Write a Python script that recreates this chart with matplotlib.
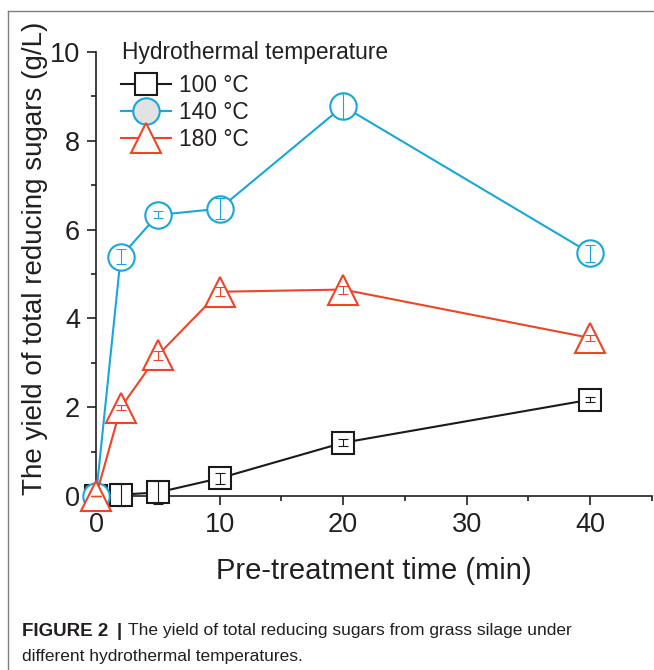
"""
Yield of total reducing sugars vs pre-treatment time
"""

import matplotlib
matplotlib.use("Agg")
from matplotlib import pyplot as plt
from matplotlib.lines import Line2D

plt.rcParams['font.family'] = ['Liberation Sans', 'DejaVu Sans']

time_min = [0, 2, 5, 10, 20, 40]

labels = ["100 °C", "140 °C", "180 °C"]
yield_100 = [0.0, 0.03, 0.08, 0.40, 1.20, 2.17]
yield_140 = [0.0, 5.39, 6.33, 6.47, 8.78, 5.47]
yield_180 = [0.0, 1.99, 3.17, 4.60, 4.65, 3.56]
err_100 = [0.0, 0.25, 0.25, 0.12, 0.08, 0.06]
err_140 = [0.0, 0.17, 0.08, 0.24, 0.30, 0.19]
err_180 = [0.0, 0.06, 0.10, 0.10, 0.09, 0.07]

COLOR_100 = '#1a1a1a'
COLOR_140 = '#17a7da'
COLOR_180 = '#ef4426'
TEXT = '#231f20'

series = [
    (yield_100, err_100, COLOR_100, 's', 16, 'white'),
    (yield_140, err_140, COLOR_140, 'o', 19, 'white'),
    (yield_180, err_180, COLOR_180, '^', 21, 'white'),
]

fig = plt.figure(figsize=(6.54, 6.70), dpi=100)
ax = fig.add_axes([0.1468, 0.2597, 0.8502, 0.6627])

handles = []
for (vals, errs, color, marker, ms, face), lab in zip(series, labels):
    ax.plot(time_min, vals, color=color, linewidth=1.5, marker=marker,
            markersize=ms, markerfacecolor=face, markeredgecolor=color,
            markeredgewidth=1.5, clip_on=False, zorder=3)
    ax.errorbar(time_min, vals, yerr=errs, fmt='none', ecolor=color,
                elinewidth=0.8, capsize=3.5, capthick=0.8, clip_on=False,
                zorder=4)
    legend_face = '#e2e2e2' if marker == 'o' else 'white'
    handles.append(Line2D([], [], color=color, linewidth=1.5, marker=marker,
                          markersize=ms, markerfacecolor=legend_face,
                          markeredgecolor=color, markeredgewidth=1.5,
                          label=lab))

ax.set_xlim(0, 45)
ax.set_ylim(0, 10)
ax.set_xticks([0, 10, 20, 30, 40])
ax.set_xticks([5, 15, 25, 35, 45], minor=True)
ax.set_yticks([0, 2, 4, 6, 8, 10])
ax.set_yticks([1, 3, 5, 7, 9], minor=True)

for s in ['top', 'right']:
    ax.spines[s].set_visible(False)
for s in ['left', 'bottom']:
    ax.spines[s].set_linewidth(1.2)
    ax.spines[s].set_color(TEXT)

ax.tick_params(axis='both', which='major', direction='out', length=6.5,
               width=1.2, labelsize=19.5, pad=5, colors=TEXT)
ax.tick_params(axis='both', which='minor', direction='out', length=3.5,
               width=1.2, colors=TEXT)

fig.text(374 / 654, 1 - 571 / 670, "Pre-treatment time (min)", fontsize=21,
         ha='center', va='center', color=TEXT)
fig.text(35 / 654, 1 - 258 / 670, "The yield of total reducing sugars (g/L)",
         fontsize=20, rotation=90, ha='center', va='center', color=TEXT)

# legend title drawn as its own text, entries below
fig.text(122 / 654, 1 - 52 / 670, "Hydrothermal temperature", fontsize=16.4,
         ha='left', va='center', color=TEXT)
leg = ax.legend(handles=handles, loc='upper left',
                bbox_to_anchor=(121 / 654, 1 - 74 / 670),
                bbox_transform=fig.transFigure, frameon=False, fontsize=16.4,
                handlelength=2.2, handletextpad=0.35, labelspacing=0.17,
                borderpad=0, borderaxespad=0)
for t in leg.get_texts():
    t.set_color(TEXT)

# frame lines of the page panel
fig.add_artist(Line2D([8 / 654, 1], [1 - 11 / 670, 1 - 11 / 670],
                      transform=fig.transFigure, color='#7f7f7f', lw=1.0))
fig.add_artist(Line2D([8 / 654, 8 / 654], [0, 1 - 11 / 670],
                      transform=fig.transFigure, color='#7f7f7f', lw=1.0))

fig.text(22 / 654, 1 - 631 / 670, "FIGURE 2", fontsize=13.5,
         fontweight='bold', ha='left', va='center', color=TEXT)
fig.text(117 / 654, 1 - 631 / 670, "|", fontsize=13.5,
         fontweight='bold', ha='left', va='center', color=TEXT)
fig.text(128 / 654, 1 - 631 / 670,
         "The yield of total reducing sugars from grass silage under",
         fontsize=12.5, ha='left', va='center', color=TEXT)
fig.text(22 / 654, 1 - 656 / 670,
         "different hydrothermal temperatures.",
         fontsize=12.5, ha='left', va='center', color=TEXT)

fig.savefig("out.png", dpi=100)
